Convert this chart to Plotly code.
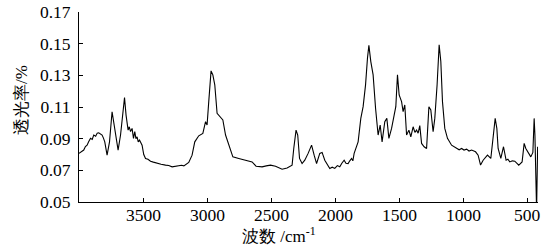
import plotly.graph_objects as go

wavenumber = [4000, 3980, 3963, 3950, 3937, 3925, 3910, 3897, 3885, 3870, 3858, 3846, 3833, 3820,
              3810, 3799, 3781, 3762, 3742, 3729, 3711, 3695,
              3676, 3664, 3645, 3633, 3617, 3608, 3598, 3586, 3575, 3565, 3556, 3547, 3538, 3528,
              3508, 3495, 3481, 3462, 3442, 3420, 3391,
              3360, 3325, 3300, 3274, 3250, 3222, 3200, 3182, 3144, 3118, 3097, 3066, 3050, 3034,
              3013, 3001, 2988, 2970, 2956,
              2941, 2923, 2896, 2878, 2857, 2832, 2800, 2754, 2701, 2650, 2619, 2572, 2540, 2506,
              2467, 2416, 2377, 2338, 2325, 2307, 2294, 2280, 2260, 2239, 2213, 2186, 2166, 2147,
              2122, 2104, 2083, 2044, 2025, 2005, 1985, 1966, 1950, 1932, 1918, 1901, 1888, 1874,
              1864, 1854, 1823, 1802, 1784, 1765, 1750,
              1739, 1724, 1706, 1687, 1667, 1651, 1636, 1615, 1599, 1583, 1562, 1542, 1529, 1516,
              1503, 1484, 1472, 1459, 1445, 1427, 1412, 1394, 1380, 1367, 1355, 1342, 1328, 1308,
              1289, 1271, 1256, 1238, 1225, 1207, 1191, 1178, 1165, 1147, 1126, 1094, 1075, 1055,
              1035, 1016, 997, 977, 958, 938,
              907, 887, 868, 848, 814, 788, 775, 754, 741, 731, 710, 689, 669, 655, 640, 620, 601,
              585, 570, 544,
              528, 515, 497, 476, 460, 450, 444, 437, 431, 423]
transmittance = [0.0807, 0.0818, 0.0828, 0.0850, 0.0859, 0.0880, 0.0902, 0.0895, 0.0923, 0.0915,
                 0.0935, 0.0937, 0.0928, 0.0923, 0.0905, 0.0880, 0.0796, 0.0880,
                 0.1070, 0.1007, 0.0923, 0.0828, 0.0923, 0.1007, 0.1159, 0.1049, 0.0954, 0.0975,
                 0.0945, 0.0965, 0.0902, 0.0944, 0.0900, 0.0912, 0.0880, 0.0891, 0.0859, 0.0800,
                 0.0775, 0.0770, 0.0758, 0.0752, 0.0743, 0.0738, 0.0733, 0.0730, 0.0722, 0.0726,
                 0.0728, 0.0732, 0.0728, 0.0750, 0.0796, 0.0880, 0.0918, 0.0925, 0.0933, 0.1007,
                 0.0986, 0.1134, 0.1328, 0.1303, 0.1240, 0.1060, 0.1032, 0.1018, 0.0923, 0.0859,
                 0.0785, 0.0775, 0.0764, 0.0753, 0.0726, 0.0722, 0.0728, 0.0733, 0.0726, 0.0707,
                 0.0715, 0.0733, 0.0838, 0.0954, 0.0923, 0.0775, 0.0743, 0.0764, 0.0807, 0.0859,
                 0.0796, 0.0743, 0.0807, 0.0813, 0.0764, 0.0712, 0.0720, 0.0712, 0.0730, 0.0722,
                 0.0745, 0.0764, 0.0745, 0.0743, 0.0760, 0.0775, 0.0760, 0.0807, 0.0880, 0.1028,
                 0.1102, 0.1240, 0.1409, 0.1489, 0.1387, 0.1303, 0.1092, 0.0923, 0.0986, 0.0880,
                 0.1007, 0.1028, 0.0902, 0.0965, 0.1049, 0.1102, 0.1303, 0.1176, 0.1134, 0.1071,
                 0.1113, 0.0923, 0.0954, 0.0912, 0.0975, 0.0940, 0.0954, 0.0935, 0.0982, 0.0870,
                 0.0849, 0.0838, 0.1102, 0.1081, 0.0944, 0.1028, 0.1240, 0.1493, 0.1387, 0.1134,
                 0.0965, 0.0902, 0.0859, 0.0850, 0.0842, 0.0830, 0.0838, 0.0828, 0.0834, 0.0822,
                 0.0828, 0.0817, 0.0796, 0.0733, 0.0764, 0.0796, 0.0775, 0.0880, 0.1028, 0.0965,
                 0.0838, 0.0775, 0.0849, 0.0764, 0.0770, 0.0753, 0.0760, 0.0758, 0.0745, 0.0733,
                 0.0753, 0.0870, 0.0838, 0.0813, 0.0785, 0.0813, 0.1028, 0.0923, 0.0690, 0.0450,
                 0.0849]

x_ticks = [3500, 3000, 2500, 2000, 1500, 1000, 500]
x_tick_labels = ["3500", "3000", "2500", "2000", "1500", "1000", "500"]
y_ticks = [0.05, 0.07, 0.09, 0.11, 0.13, 0.15, 0.17]
y_tick_labels = ["0.05", "0.07", "0.09", "0.11", "0.13", "0.15", "0.17"]

serif = "Liberation Serif, Times New Roman, serif"
fsize = 17.5

fig = go.Figure()
fig.add_trace(go.Scatter(x=wavenumber, y=transmittance, mode="lines",
                         line=dict(color="black", width=1.1), showlegend=False,
                         hoverinfo="skip"))

annotations = [
    dict(text=t, x=v, xref="x", yref="paper", y=-0.068, xanchor="center", yanchor="middle",
         showarrow=False, font=dict(family=serif, size=fsize))
    for v, t in zip(x_ticks, x_tick_labels)
]
annotations += [
    dict(text="波数 /cm<sup>-1</sup>", xref="paper", yref="paper", x=0.436, y=-0.176,
         xanchor="center", yanchor="middle", showarrow=False,
         font=dict(family=serif, size=17)),
    dict(text="透光率/%", xref="paper", yref="paper", x=-0.124, y=0.537,
         xanchor="center", yanchor="middle", textangle=-90, showarrow=False,
         font=dict(family=serif, size=17)),
]

fig.update_layout(
    width=551, height=248,
    margin=dict(l=79, r=13, t=12, b=46),
    paper_bgcolor="white", plot_bgcolor="white",
    font=dict(family=serif, size=fsize, color="black"),
    xaxis=dict(range=[4000, 420], tickvals=x_ticks, showticklabels=False, automargin=False,
               ticks="inside", ticklen=4, tickwidth=1, tickcolor="black",
               showline=True, linecolor="black", linewidth=1, mirror=False,
               showgrid=False, zeroline=False),
    yaxis=dict(range=[0.05, 0.17], tickvals=y_ticks, ticktext=y_tick_labels, automargin=False,
               ticks="inside", ticklen=4, tickwidth=1, tickcolor="black",
               showline=True, linecolor="black", linewidth=1, mirror=False,
               showgrid=False, zeroline=False, ticklabelstandoff=4,
               tickfont=dict(family=serif, size=fsize)),
    annotations=annotations,
)

fig.write_html("out.html", config={"displayModeBar": False},
               post_script="document.body.style.margin='0';")
